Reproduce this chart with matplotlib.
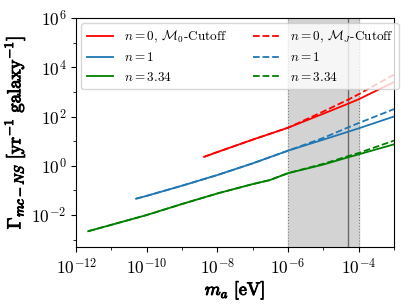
import matplotlib
matplotlib.use("Agg")
import matplotlib.pyplot as plt
import matplotlib.patheffects as pe
from matplotlib.ticker import NullFormatter

plt.rcParams["font.family"] = "serif"
plt.rcParams["font.serif"] = ["cmr10", "DejaVu Serif"]
plt.rcParams["mathtext.fontset"] = "cm"
plt.rcParams["axes.formatter.use_mathtext"] = True

# values (axion mass in eV, rate per yr per galaxy)
m_red = [4.2e-9, 1e-8, 1e-7, 1e-6, 1e-5, 5e-5, 1e-4, 1e-3]
rate_red_m0 = [2.3, 3.6, 11.5, 35.0, 130.0, 330.0, 500.0, 2500.0]
rate_red_mj = [2.3, 3.6, 11.5, 35.0, 160.0, 480.0, 800.0, 5000.0]

m_blue = [5e-11, 1e-10, 1e-9, 1e-8, 1e-7, 1e-6, 1e-5, 5e-5, 1e-4, 1e-3]
rate_blue_m0 = [0.046, 0.060, 0.155, 0.42, 1.25, 4.1, 11.5, 24.0, 33.0, 100.0]
rate_blue_mj = [0.046, 0.060, 0.155, 0.42, 1.25, 4.1, 13.5, 36.0, 54.0, 200.0]

m_green = [2.2e-12, 1e-11, 1e-10, 1e-9, 1e-8, 1e-7, 3e-7, 1e-6,
           1e-5, 5e-5, 1e-4, 1e-3]
rate_green_m0 = [0.0022, 0.0040, 0.0100, 0.028, 0.075, 0.18, 0.26, 0.50,
                 1.12, 2.2, 2.9, 7.4]
rate_green_mj = [0.0022, 0.0040, 0.0100, 0.028, 0.075, 0.18, 0.26, 0.50,
                 1.2, 2.45, 3.3, 10.5]

band = [1e-6, 1e-4]
m_line = 5e-5

fig = plt.figure(figsize=(4.07, 3.05), dpi=100)
ax = fig.add_axes([0.187, 0.19, 0.781, 0.751])

ax.axvspan(band[0], band[1], color="lightgray", zorder=0)
for xv in band:
    ax.axvline(xv, color="gray", ls=":", lw=0.8, zorder=0)
ax.axvline(m_line, color="dimgray", lw=1.0, zorder=1)

ax.plot(m_red, rate_red_m0, color="red", lw=1.3, label=r"$n=0$, $\mathcal{M}_0$-Cutoff")
ax.plot(m_blue, rate_blue_m0, color="tab:blue", lw=1.3, label=r"$n=1$")
ax.plot(m_green, rate_green_m0, color="green", lw=1.3, label=r"$n=3.34$")
ax.plot(m_red, rate_red_mj, color="red", lw=1.3, ls="--", label=r"$n=0$, $\mathcal{M}_J$-Cutoff")
ax.plot(m_blue, rate_blue_mj, color="tab:blue", lw=1.3, ls="--", label=r"$n=1$")
ax.plot(m_green, rate_green_mj, color="green", lw=1.3, ls="--", label=r"$n=3.34$")

ax.set_xscale("log")
ax.set_yscale("log")
ax.set_xlim(1e-12, 1e-3)
ax.set_ylim(5e-4, 1e6)
ax.set_xticks([1e-12, 1e-10, 1e-8, 1e-6, 1e-4])
ax.set_xticks([1e-11, 1e-9, 1e-7, 1e-5, 1e-3], minor=True)
ax.set_yticks([1e-2, 1e0, 1e2, 1e4, 1e6])
ax.set_yticks([1e-3, 1e-1, 1e1, 1e3, 1e5], minor=True)
ax.xaxis.set_minor_formatter(NullFormatter())
ax.yaxis.set_minor_formatter(NullFormatter())
ax.tick_params(labelsize=12.5)

# bold look for the axis labels
bold = [pe.withStroke(linewidth=0.7, foreground="black")]
ax.set_xlabel(r"$m_a\ [\mathrm{eV}]$", fontsize=13, labelpad=2, path_effects=bold)
ax.set_ylabel(r"$\Gamma_{mc-NS}\ [\mathrm{yr}^{-1}\ \mathrm{galaxy}^{-1}]$",
              fontsize=13.5, labelpad=3, path_effects=bold)

ax.legend(ncol=2, loc="upper left", fontsize=9.5, borderaxespad=0.4)

fig.savefig("out.png", dpi=100)
